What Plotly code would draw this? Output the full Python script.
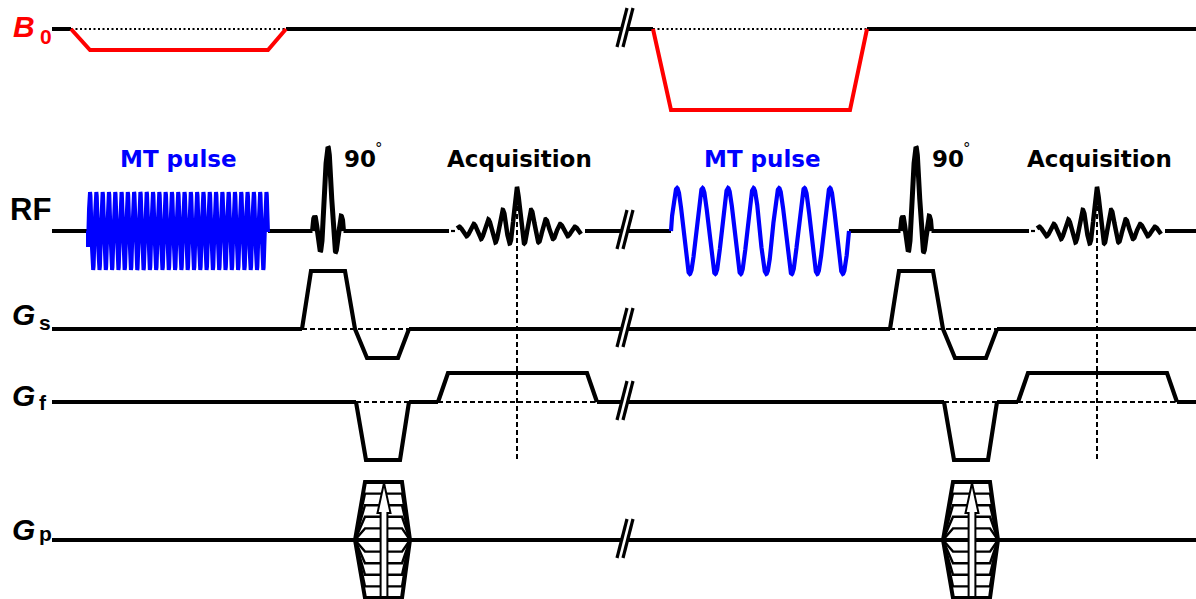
import numpy as np
import plotly.graph_objects as go

W, H = 1196, 599

# ---------------- diagram values (pixel units of the drawing) ----------------
ROW_NAMES = ["B", "RF", "G", "G", "G"]
ROW_SUBS = ["0", "", "s", "f", "p"]
ROW_Y = [29, 231, 329, 402, 540]          # baselines: B0, RF, Gs, Gf, Gp
LINE_START = 52
BREAK_X = 617

# B0 shift during the MT pulse (two experiments)
B0_X = [[71, 90, 268, 286], [653, 671, 850, 867]]
B0_DEPTH = [21, 81]

# MT saturation pulses
MT_X = [[88, 268], [671, 849]]
MT_FIRST_PEAK = [90, 677]
MT_PERIOD = [6.3, 25.5]
MT_AMP = [39, 43]

# 90 degree excitation (sinc)
EXC_CENTER = [328, 916]
EXC_HALF = 15.5
EXC_LOBES = 2.9
EXC_AMP = 84

# echo / acquisition
ECHO_CENTER = [517, 1097]
ECHO_SPAN = [-60, 64]
ECHO_PERIOD = 14.5
ECHO_AMP = 44
ECHO_DECAY = 32
ECHO_LINE_BOTTOM = 462

# gradients (breakpoints, amplitudes upward in px)
GS_X = [[302, 311, 345, 355, 367, 398, 409], [890, 899, 933, 943, 955, 986, 997]]
GS_A = [0, 58, 58, 0, -29, -29, 0]
GF_PRE_X = [[356, 366, 400, 409], [944, 954, 988, 997]]
GF_PRE_A = [0, -58, -58, 0]
GF_RO_X = [[438, 448, 587, 597], [1018, 1028, 1167, 1177]]
GF_RO_A = [0, 29, 29, 0]
GP_X = [[355, 365, 402, 410], [943, 953, 990, 998]]
GP_LEVELS = 5
GP_MAX = 58

HEAD_MT = ["MT pulse", "MT pulse"]
HEAD_MT_X = [178, 762]
HEAD_ACQ = ["Acquisition", "Acquisition"]
HEAD_ACQ_X = [519, 1099]
HEAD_90 = ["90", "90"]
HEAD_90_X = [342, 930]
HEAD_Y = 159

BLACK = "#000000"
RED = "#ff0000"
BLUE = "#0000ff"

fig = go.Figure()


def add_line(xs, ys, color=BLACK, width=4, dash=None, fill=None, fillcolor=None):
    line = dict(color=color, width=width)
    if dash:
        line["dash"] = dash
    kw = {}
    if fill:
        kw = dict(fill=fill, fillcolor=fillcolor)
    fig.add_trace(go.Scatter(x=list(xs), y=list(ys), mode="lines", line=line,
                             hoverinfo="skip", showlegend=False, **kw))


def segs_from_gaps(x0, x1, gaps):
    segs, cur = [], x0
    for a, b in sorted(gaps):
        if a > cur:
            segs.append((cur, a))
        cur = max(cur, b)
    if cur < x1:
        segs.append((cur, x1))
    return segs


def multi(segments):
    xs, ys = [], []
    for sx, sy in segments:
        xs += list(sx) + [None]
        ys += list(sy) + [None]
    return xs, ys


# break geometry
BRK_TOP, BRK_BOT, BRK_DX, BRK_SEP = 21, 18, 10, 6
brk_left = BREAK_X + BRK_DX * BRK_BOT / (BRK_TOP + BRK_BOT)
brk_gap = (brk_left, brk_left + BRK_SEP)

# ---------------- baselines ----------------
gaps = {
    0: [(B0_X[i][0], B0_X[i][3]) for i in range(2)],
    1: [(MT_X[i][0], MT_X[i][1]) for i in range(2)]
       + [(EXC_CENTER[i] - EXC_HALF, EXC_CENTER[i] + EXC_HALF) for i in range(2)]
       + [(ECHO_CENTER[i] + ECHO_SPAN[0] - 8, ECHO_CENTER[i] + ECHO_SPAN[1] + 4) for i in range(2)],
    2: [(GS_X[i][0], GS_X[i][-1]) for i in range(2)],
    3: [(GF_PRE_X[i][0], GF_PRE_X[i][-1]) for i in range(2)]
       + [(GF_RO_X[i][0], GF_RO_X[i][-1]) for i in range(2)],
    4: [],
}
base_segments = []
for r, y in enumerate(ROW_Y):
    for a, b in segs_from_gaps(LINE_START, W, gaps[r] + [brk_gap]):
        base_segments.append(([a, b], [y, y]))
add_line(*multi(base_segments), width=4)

# dotted B0 reference
dot_segments = [([B0_X[i][0], B0_X[i][3]], [ROW_Y[0], ROW_Y[0]]) for i in range(2)]
add_line(*multi(dot_segments), width=2, dash="2px,2.5px")

# dashed gradient baselines + echo markers
dash_segments = []
for i in range(2):
    dash_segments.append(([GS_X[i][0], GS_X[i][-1]], [ROW_Y[2]] * 2))
    dash_segments.append(([GF_PRE_X[i][0], GF_PRE_X[i][-1]], [ROW_Y[3]] * 2))
    dash_segments.append(([GF_RO_X[i][0], GF_RO_X[i][-1]], [ROW_Y[3]] * 2))
    dash_segments.append(([ECHO_CENTER[i]] * 2, [ROW_Y[1] - ECHO_AMP + 3, ECHO_LINE_BOTTOM]))
add_line(*multi(dash_segments), width=2, dash="5px,3px")

# small dashes before / after acquisition window
acq_dash = []
for i in range(2):
    c = ECHO_CENTER[i]
    acq_dash.append(([c + ECHO_SPAN[0] - 6, c + ECHO_SPAN[0] - 2], [ROW_Y[1]] * 2))
add_line(*multi(acq_dash), width=2.2)

# break marks
brk_segments = []
for y in ROW_Y:
    for k in range(2):
        x0 = BREAK_X + k * BRK_SEP
        brk_segments.append(([x0, x0 + BRK_DX], [y + BRK_BOT, y - BRK_TOP]))
add_line(*multi(brk_segments), width=3.2)

# ---------------- B0 ----------------
b0_segments = []
for i in range(2):
    y0 = ROW_Y[0]
    d = B0_DEPTH[i]
    b0_segments.append((B0_X[i], [y0, y0 + d, y0 + d, y0]))
add_line(*multi(b0_segments), color=RED, width=4)

# ---------------- RF ----------------
for i in range(2):
    a, b = MT_X[i]
    x = np.linspace(a, b, 2400)
    y = ROW_Y[1] - MT_AMP[i] * np.cos(2 * np.pi * (x - MT_FIRST_PEAK[i]) / MT_PERIOD[i])
    xs = [a] + list(x) + [b]
    ys = [ROW_Y[1]] + list(y) + [ROW_Y[1]]
    add_line(xs, ys, color=BLUE, width=4 if i == 0 else 4.2)

for i in range(2):
    u = np.linspace(-EXC_LOBES, EXC_LOBES, 400)
    v = np.sinc(u) * (1 + 0.06 * u ** 2)
    x = EXC_CENTER[i] + u * EXC_HALF / EXC_LOBES
    y = ROW_Y[1] - EXC_AMP * v
    add_line([x[0]] + list(x) + [x[-1]], [ROW_Y[1]] + list(y) + [ROW_Y[1]], width=5)

for i in range(2):
    d = np.linspace(ECHO_SPAN[0], ECHO_SPAN[1], 900)
    s = ECHO_AMP * (0.6 * np.exp(-np.abs(d) / ECHO_DECAY) * np.cos(2 * np.pi * d / ECHO_PERIOD)
                    + 0.4 * np.exp(-np.abs(d) / 10))
    add_line(ECHO_CENTER[i] + d, ROW_Y[1] - s, width=4.5)

# ---------------- gradients ----------------
grad_segments = []
for i in range(2):
    grad_segments.append((GS_X[i], [ROW_Y[2] - a for a in GS_A]))
    grad_segments.append((GF_PRE_X[i], [ROW_Y[3] - a for a in GF_PRE_A]))
    grad_segments.append((GF_RO_X[i], [ROW_Y[3] - a for a in GF_RO_A]))
add_line(*multi(grad_segments), width=4.2)

# phase-encoding tables
inner, outer = [], []
for i in range(2):
    x = GP_X[i]
    y0 = ROW_Y[4]
    for k in range(-GP_LEVELS, GP_LEVELS + 1):
        lv = GP_MAX * k / GP_LEVELS
        seg = (x, [y0, y0 - lv, y0 - lv, y0])
        if abs(k) == GP_LEVELS:
            outer.append(seg)
        else:
            inner.append(seg)
add_line(*multi(inner), width=2.4)
add_line(*multi(outer), width=4)

# arrows in the tables
for i in range(2):
    cx = (GP_X[i][1] + GP_X[i][2]) / 2 + 0.5
    top = ROW_Y[4] - GP_MAX + 1
    bot = ROW_Y[4] + GP_MAX - 1
    hw, sw, hh = 6.5, 3.4, 30
    ax = [cx - sw, cx - sw, cx - hw, cx, cx + hw, cx + sw, cx + sw, cx - sw]
    ay = [bot, top + hh, top + hh, top, top + hh, top + hh, bot, bot]
    add_line(ax, ay, width=2, fill="toself", fillcolor="#ffffff")

# ---------------- text ----------------
ann = []
LBL = "Liberation Sans"
# row labels
ann.append(dict(x=11, y=26, text="<b><i>B</i></b>", font=dict(family=LBL, size=30, color=RED),
                xanchor="left"))
ann.append(dict(x=38, y=36, text="<b>0</b>", font=dict(family=LBL, size=21, color=RED),
                xanchor="left"))
ann.append(dict(x=8, y=209, text="<b>RF</b>", font=dict(family=LBL, size=31, color=BLACK),
                xanchor="left"))
G_Y = [314, 395, 529]
SUB_Y = [322, 402, 533]
for r, gy, sy in zip([2, 3, 4], G_Y, SUB_Y):
    ann.append(dict(x=10, y=gy, text="<b><i>G</i></b>", font=dict(family=LBL, size=30, color=BLACK),
                    xanchor="left"))
    ann.append(dict(x=37, y=sy, text="<b>" + ROW_SUBS[r] + "</b>",
                    font=dict(family=LBL, size=21, color=BLACK), xanchor="left"))

HF = "DejaVu Sans"
for i in range(2):
    ann.append(dict(x=HEAD_MT_X[i], y=HEAD_Y, text="<b>" + HEAD_MT[i] + "</b>",
                    font=dict(family=HF, size=23, color=BLUE), xanchor="center"))
    ann.append(dict(x=HEAD_ACQ_X[i], y=HEAD_Y, text="<b>" + HEAD_ACQ[i] + "</b>",
                    font=dict(family=HF, size=23, color=BLACK), xanchor="center"))
    ann.append(dict(x=HEAD_90_X[i], y=HEAD_Y, text="<b>" + HEAD_90[i] + "</b>",
                    font=dict(family=HF, size=23, color=BLACK), xanchor="left"))
    ann.append(dict(x=HEAD_90_X[i] + 37, y=149, text="°",
                    font=dict(family=HF, size=15, color=BLACK), xanchor="center"))

for a in ann:
    a.update(xref="x", yref="y", showarrow=False, yanchor="middle")

fig.update_layout(
    width=W, height=H,
    margin=dict(l=0, r=0, t=0, b=0),
    paper_bgcolor="white", plot_bgcolor="white",
    xaxis=dict(range=[0, W], visible=False, fixedrange=True),
    yaxis=dict(range=[H, 0], visible=False, fixedrange=True),
    annotations=ann,
    showlegend=False,
)

fig.write_html("out.html", config={"displayModeBar": False},
               post_script="document.body.style.margin='0';document.body.style.overflow='hidden';")
